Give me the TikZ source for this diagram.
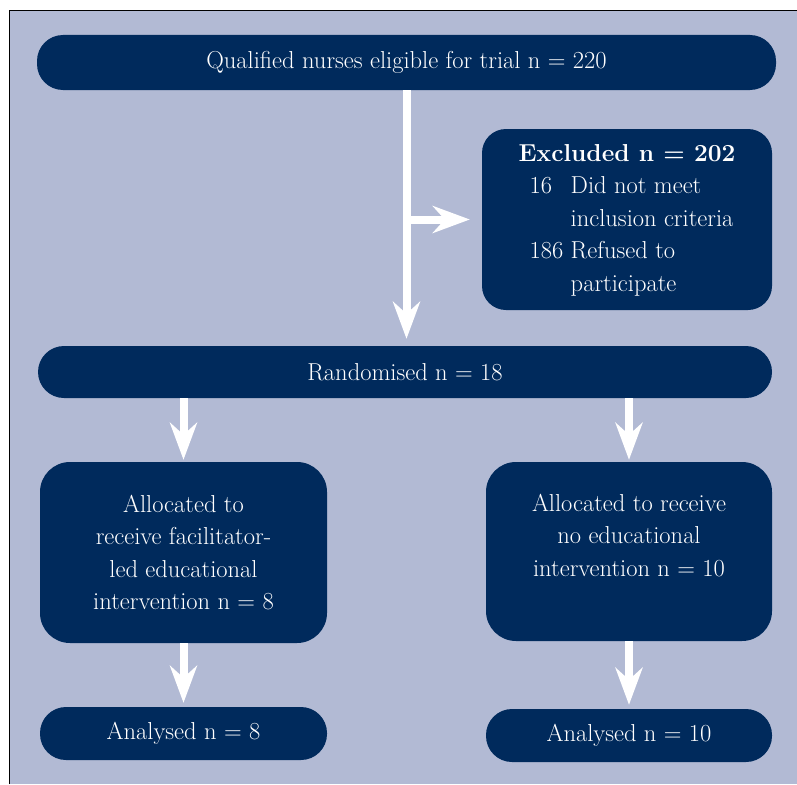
\documentclass[tikz,border=0pt]{standalone}
\usepackage{fontspec}
\usetikzlibrary{arrows.meta,positioning}
\definecolor{navy}{RGB}{0,42,92}
\definecolor{panel}{RGB}{178,186,212}

\begin{document}
\begin{tikzpicture}[x=1pt, y=-1pt, node distance=181pt,
    box/.style={fill=navy, text=white, rounded corners=26pt, align=center, inner sep=0pt, font=\fontsize{24.5}{32.5}\selectfont},
    flow/.style={draw=white, line width=8pt, -{Stealth[length=37pt, width=27pt, inset=12pt]}}]
                \useasboundingbox (0,0) rectangle (797,784);
                \fill[panel] (9,11) rectangle (797,784);
                \draw[line width=1pt] (9,784) -- (9,11) -- (797,11);

                \node[box, minimum width=739pt, minimum height=55pt] (elig) at (406.5,62.5) {Qualified nurses eligible for trial n = 220};
                \node[box, minimum width=290pt, minimum height=181pt, rounded corners=24pt] (excl) at (627,219.5) {%
                    \begin{tabular}{@{}l@{\hspace{0.3em}}l@{}}
                    \multicolumn{2}{@{}l@{}}{\bfseries Excluded n = 202}\\
                    \hspace{0.45em}16 & Did not meet\\
                     & inclusion criteria\\
                    \hspace{0.45em}186 & Refused to\\
                     & participate
                    \end{tabular}};
                \node[box, minimum width=734pt, minimum height=52pt] (rand) at (405,372) {Randomised n = 18};
                \node[box, minimum width=287pt, minimum height=181pt, rounded corners=30pt] (allocA) at (183.5,552.5) {Allocated to\\receive facilitator-\\led educational\\intervention n = 8};
                \node[box, minimum width=286pt, minimum height=179pt, rounded corners=30pt] (allocB) at (629,551.5) {Allocated to receive\\no educational\\intervention n = 10\\\mbox{}};
                \node[box, minimum width=287pt, minimum height=53pt] (anaA) [below of=allocA] {Analysed n = 8};
                \node[box, minimum width=286pt, minimum height=53pt] (anaB) [below of=allocB, yshift=-3pt] {Analysed n = 10};

                \coordinate (split) at (elig.south |- excl.west);
                \draw[flow, shorten >=7pt] (elig.south) -- (elig.south |- rand.north);
                \draw[flow, shorten >=12pt] (split) -- (excl.west);
                \draw[flow, shorten >=2pt] (rand.south -| allocA) -- (allocA.north);
                \draw[flow, shorten >=2pt] (rand.south -| allocB) -- (allocB.north);
                \draw[flow, shorten >=4pt] (allocA) -- (anaA);
                \draw[flow, shorten >=4pt] (allocB) -- (anaB);
            \end{tikzpicture}
\end{document}
